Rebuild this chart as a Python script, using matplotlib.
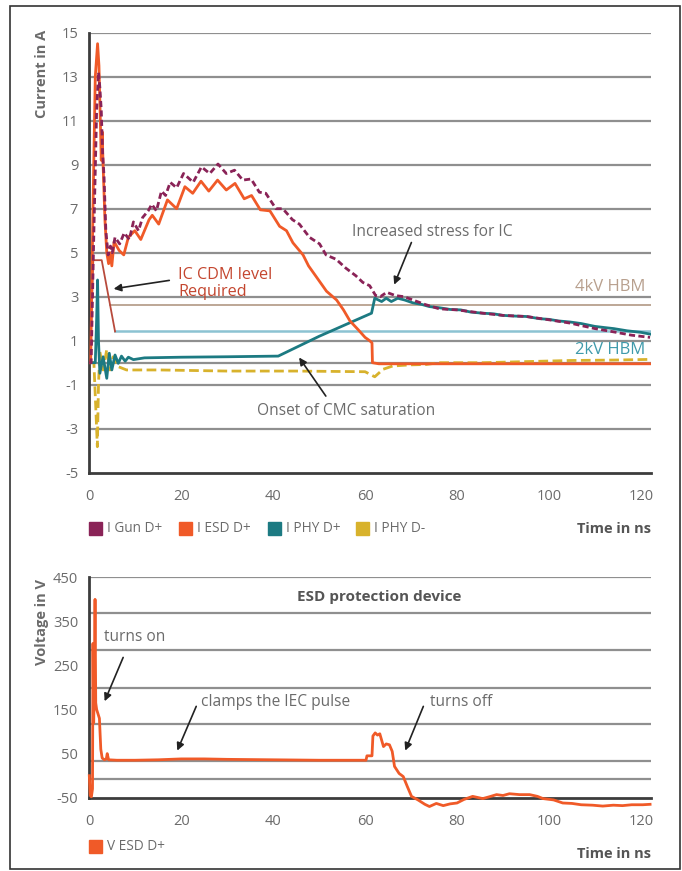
import matplotlib
matplotlib.use("Agg")
import matplotlib.pyplot as plt
from matplotlib.patches import Rectangle

plt.rcParams['font.family'] = ['Open Sans', 'DejaVu Sans']
plt.rcParams['axes.unicode_minus'] = False

# ---------------- current waveforms (A) ----------------
t_gun = [0, 0.4, 1.0, 1.6, 2.0, 2.3, 2.6, 2.9, 3.2, 3.6, 4.1, 4.6, 5.0, 5.6, 6.6, 7.6, 8.7, 9.6,
         10.7, 11.6, 12.8, 13.6, 14.6, 15.7, 16.6, 17.6, 19.0, 20.5, 22.6, 24.4, 26.2, 28.0, 29.8,
         31.6, 33.4, 35.2, 37.0, 38.4, 40.6, 42.1, 44.2, 45.7, 47.9, 50.1, 51.5, 53.7, 55.8, 58.0,
         59.5, 61.0, 62.3, 63.3, 64.7, 66.6, 68.5, 70.4, 73.0, 76.1, 80.0, 85.6, 90.0, 95.1, 100.0,
         104.6, 110.0, 114.1, 118.0, 122.0]
i_gun = [0, 0, 6.0, 11.5, 13.2, 12.5, 11.5, 9.5, 8.5, 6.0, 4.9, 5.3, 5.0, 5.7, 5.4, 5.9, 5.6, 6.4,
         6.0, 6.6, 6.9, 7.2, 6.9, 7.8, 7.6, 8.2, 7.95, 8.6, 8.2, 8.9, 8.6, 9.03, 8.6,
         8.75, 8.3, 8.35, 7.75, 7.7, 7.0, 7.0, 6.5, 6.3, 5.7, 5.4, 4.9, 4.7, 4.3, 3.95,
         3.65, 3.5, 3.05, 3.0, 3.2, 3.05, 3.0, 2.85, 2.65, 2.45, 2.4, 2.25, 2.15, 2.1, 1.95,
         1.8, 1.55, 1.4, 1.25, 1.15]

t_esd = [0, 0.3, 0.8, 1.3, 1.8, 2.1, 2.4, 2.6, 2.8, 3.0, 3.4, 3.8, 4.2, 4.5, 4.9, 5.4, 6.5, 7.5,
         8.5, 9.9, 11.2, 13.0, 13.7, 15.1, 17.0, 19.0, 20.8, 22.5, 24.3, 26.0, 27.9, 29.8, 31.7,
         33.7, 35.3, 37.2, 39.3, 41.4, 42.9, 44.3, 46.5, 47.7, 49.4, 51.6, 53.8, 55.3, 56.7, 58.5,
         60.0, 61.0, 61.5, 61.6, 63.0, 122.0]
i_esd = [0, 0, 7.0, 13.0, 14.5, 13.5, 11.0, 9.2, 10.5, 9.0, 6.5, 5.0, 4.5, 5.0, 4.4, 5.5, 5.1, 4.9,
         5.7, 6.0, 5.6, 6.5, 6.7, 6.3, 7.4, 7.0, 8.0, 7.7, 8.25, 7.8, 8.3, 7.85, 8.15,
         7.45, 7.6, 6.95, 6.9, 6.2, 6.0, 5.45, 4.9, 4.4, 3.9, 3.25, 2.85, 2.4, 1.9, 1.5,
         1.15, 1.0, 0.9, 0.0, -0.05, -0.05]

t_phy_p = [0, 1.3, 1.6, 1.8, 2.0, 2.3, 3.0, 3.8, 4.35, 4.9, 5.6, 6.3, 7.0, 7.8, 8.5, 9.6, 12, 20,
           30, 41.1, 50, 61.4, 62.1, 63.6, 64.6, 65.7, 67.1, 68.6, 70.4, 72.3, 74.0, 76.1, 78.5,
           80.8, 83, 85.6, 88, 90, 92.5, 95.1, 98, 100, 102, 104.6, 107, 110, 112, 114.1, 117,
           120, 122]
i_phy_p = [0, 0, 2.0, 3.76, 1.0, -0.48, 0.27, -0.71, 0.43, -0.33, 0.35, -0.03, 0.3, 0.07, 0.25, 0.14, 0.22, 0.25,
           0.27, 0.3, 1.2, 2.25, 2.93, 2.78, 2.93, 2.78, 2.93, 2.85, 2.72, 2.65, 2.55, 2.5, 2.42,
           2.4, 2.3, 2.25, 2.22, 2.15, 2.12, 2.1, 2.0, 1.97, 1.9, 1.85, 1.78, 1.65, 1.6, 1.55, 1.45,
           1.38, 1.3]

t_phy_n = [0, 1.0, 1.4, 1.75, 2.0, 2.3, 3.0, 3.8, 4.5, 5.2, 6.3, 8.1, 15.3, 30, 45, 60.0, 62.1,
           63.9, 66.0, 69.7, 73.3, 76.1, 85.6, 95.1, 104.6, 114, 122]
i_phy_n = [0, 0, -2.0, -3.82, -1.0, 0.5, -0.33, 0.6, -0.33, 0.27, -0.18, -0.33, -0.33, -0.38, -0.38, -0.41, -0.64,
           -0.3, -0.15, -0.1, -0.08, 0.0, 0.0, 0.05, 0.1, 0.12, 0.15]

# CDM requirement profile and HBM reference levels (A)
t_cdm = [0.15, 0.87, 2.7, 5.6]
i_cdm = [0.0, 4.66, 4.66, 1.42]
hbm_2kv = 1.42
hbm_4kv = 2.6
hbm_4kv_start = 4.5

# ---------------- ESD device voltage (V) ----------------
t_v = [0, 0.2, 0.45, 0.7, 0.8, 0.95, 1.1, 1.25, 1.4, 1.6, 1.9, 2.2, 2.5, 2.8, 3.3, 3.7, 3.9, 4.2,
       6, 10, 15, 20, 25, 30, 40, 50, 55, 60.2, 60.4, 61.5, 61.7, 62.2, 62.7, 63.2, 64.0, 64.6,
       65.3, 65.9, 66.4, 67.4, 68.3, 69.2, 70.1, 71.5, 73, 74, 75.5, 77, 78.5, 80, 81.5, 83.4,
       85.6, 87, 88.6, 90, 91.4, 93.6, 95.8, 97.5, 98.7, 101, 103, 105, 107, 109.5, 111.7, 114,
       116, 118, 120.4, 122]
v_esd = [0, -45, -48, -30, 300, 120, 200, 400, 165, 150, 140, 130, 60, 40, 36, 38, 50, 36,
         35, 35, 36, 38, 38, 37, 36, 35, 35, 35, 45, 45, 90, 97, 92, 95, 66, 72,
         70, 55, 21, 5, -2, -25, -47, -55, -65, -70, -63, -68, -64, -62, -54, -47,
         -52, -48, -43, -45, -41, -43, -43, -47, -52, -55, -62, -63, -66, -67, -69, -67,
         -68, -66, -66, -65]

x_ticks = [0, 20, 40, 60, 80, 100, 120]
i_ticks = [-5, -3, -1, 1, 3, 5, 7, 9, 11, 13, 15]
i_grid = [-3, -1, 0, 1, 3, 5, 7, 9, 11, 13, 15]
v_ticks = [-50, 50, 150, 250, 350, 450]
v_grid = [-8, 33, 117, 200, 284, 368, 450]

C_GUN = '#8a2357'
C_ESD = '#f05a28'
C_PHYP = '#1c7a82'
C_PHYN = '#d8b22c'
C_CDM = '#b84a3c'
C_2KV = '#8cc3d2'
C_4KV = '#b8a08e'
GRID = '#8f8f8f'
SPINE = '#3c3c3c'
TXT = '#6b6b6b'

W, H = 682, 871
fig = plt.figure(figsize=(W / 100, H / 100), dpi=100)


def fx(px):
    return px / W


def fy(py):
    return 1 - py / H


def style_axes(ax, yticks, grid_vals, ylim):
    ax.set_xlim(0, 122.2)
    ax.set_ylim(*ylim)
    for s in ('top', 'right'):
        ax.spines[s].set_visible(False)
    for s in ('left', 'bottom'):
        ax.spines[s].set_color(SPINE)
        ax.spines[s].set_linewidth(2.0)
    for g in grid_vals:
        ax.axhline(g, color=GRID, lw=1.6, zorder=0)
    ax.set_xticks(x_ticks)
    ax.set_yticks(yticks)
    ax.tick_params(length=0, labelsize=10.5, colors=TXT, pad=8)
    ax.tick_params(axis='x', pad=12)


ARROW = dict(arrowstyle='-|>', color='#222222', lw=1.2, mutation_scale=11)

# ---------------- top panel: currents ----------------
ax1 = fig.add_axes([fx(89.3), fy(472.7), fx(651 - 89.3), (472.7 - 32.7) / H])
style_axes(ax1, i_ticks, i_grid, (-5, 15))

ax1.plot([hbm_4kv_start, 122.2], [hbm_4kv, hbm_4kv], color=C_4KV, lw=1.3, zorder=1)
ax1.plot([t_cdm[-1], 122.2], [hbm_2kv, hbm_2kv], color=C_2KV, lw=1.8, zorder=1)
ax1.plot(t_cdm, i_cdm, color=C_CDM, lw=1.3, zorder=2)

ax1.plot(t_phy_n, i_phy_n, color=C_PHYN, lw=2.0, dashes=(3.5, 1.6), zorder=3)
ax1.plot(t_phy_p, i_phy_p, color=C_PHYP, lw=2.0, zorder=4)
ax1.plot(t_gun, i_gun, color=C_GUN, lw=2.0, dashes=(2.2, 1.2), zorder=5)
ax1.plot(t_esd, i_esd, color=C_ESD, lw=2.0, zorder=4)

ax1.text(19.4, 3.6, 'IC CDM level\nRequired', color='#c4462f', fontsize=11.6,
         ha='left', va='center', linespacing=1.12)
ax1.annotate('', xy=(4.7, 3.34), xytext=(18, 3.76), arrowprops=ARROW)
ax1.text(57.2, 5.95, 'Increased stress for IC', color=TXT, fontsize=11.2, ha='left', va='center')
ax1.annotate('', xy=(66.1, 3.43), xytext=(70.3, 5.58), arrowprops=ARROW)
ax1.text(55.8, -2.18, 'Onset of CMC saturation', color=TXT, fontsize=11.2, ha='center', va='center')
ax1.annotate('', xy=(45.3, 0.34), xytext=(51.8, -1.62), arrowprops=ARROW)
ax1.text(121.0, 3.43, '4kV HBM', color=C_4KV, fontsize=12, ha='right', va='center')
ax1.text(121.0, 0.58, '2kV HBM', color='#3f9aab', fontsize=12, ha='right', va='center')

# ---------------- bottom panel: voltage ----------------
ax2 = fig.add_axes([fx(89.3), fy(797.7), fx(651 - 89.3), (797.7 - 577.3) / H])
style_axes(ax2, v_ticks, v_grid, (-50, 450))
ax2.plot(t_v, v_esd, color=C_ESD, lw=2.0, zorder=4, clip_on=False)

ax2.text(63, 406, 'ESD protection device', color='#555555', fontsize=11,
         fontweight='bold', ha='center', va='center')
ax2.text(3.3, 315, 'turns on', color=TXT, fontsize=11.2, ha='left', va='center')
ax2.annotate('', xy=(3.1, 163), xytext=(7.6, 274), arrowprops=ARROW)
ax2.text(24.4, 168, 'clamps the IEC pulse', color=TXT, fontsize=11.2, ha='left', va='center')
ax2.annotate('', xy=(18.9, 51), xytext=(23.5, 163), arrowprops=ARROW)
ax2.text(74.1, 168, 'turns off', color=TXT, fontsize=11.2, ha='left', va='center')
ax2.annotate('', xy=(68.5, 51), xytext=(72.9, 163), arrowprops=ARROW)

# ---------------- axis titles ----------------
fig.text(fx(42), fy(74), 'Current in A', rotation=90, ha='center', va='center',
         color=TXT, fontsize=10.5, fontweight='bold')
fig.text(fx(42), fy(622), 'Voltage in V', rotation=90, ha='center', va='center',
         color=TXT, fontsize=10.5, fontweight='bold')
fig.text(fx(651), fy(529), 'Time in ns', ha='right', va='center',
         color='#555555', fontsize=10.5, fontweight='bold')
fig.text(fx(651), fy(854), 'Time in ns', ha='right', va='center',
         color='#555555', fontsize=10.5, fontweight='bold')

# ---------------- legends ----------------
legend_top = [('I Gun D+', C_GUN), ('I ESD D+', C_ESD), ('I PHY D+', C_PHYP), ('I PHY D-', C_PHYN)]
legend_x = [89, 179, 268, 356]
for (label, col), lx in zip(legend_top, legend_x):
    fig.add_artist(Rectangle((fx(lx), fy(535)), 13 / W, 13 / H, color=col,
                             transform=fig.transFigure))
    fig.text(fx(lx + 18), fy(528.5), label, ha='left', va='center', color=TXT, fontsize=9.8)

fig.add_artist(Rectangle((fx(89), fy(853)), 13 / W, 13 / H, color=C_ESD,
                         transform=fig.transFigure))
fig.text(fx(107), fy(846.5), 'V ESD D+', ha='left', va='center', color=TXT, fontsize=9.8)

# outer frame
fig.add_artist(Rectangle((fx(10), fy(869)), (680 - 10) / W, (869 - 6) / H, fill=False,
                         edgecolor='#333333', lw=1.2, transform=fig.transFigure))

fig.savefig('out.png', dpi=100, facecolor='white')
